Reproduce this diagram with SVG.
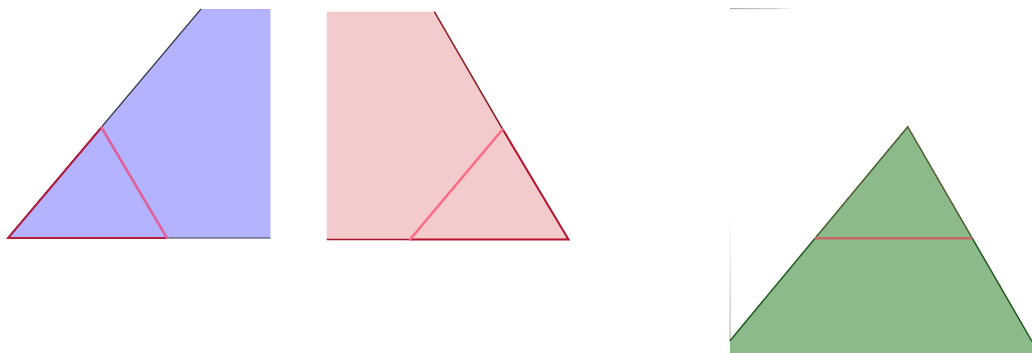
<svg xmlns="http://www.w3.org/2000/svg" width="1032" height="353" viewBox="0 0 1032 353">
<defs>
<linearGradient id="gh" x1="0" x2="1" y1="0" y2="0"><stop offset="0" stop-color="#b0b0b0"/><stop offset="0.7" stop-color="#d0d0d0"/><stop offset="1" stop-color="#e0e0e0" stop-opacity="0"/></linearGradient>
<linearGradient id="gv" x1="0" x2="0" y1="0" y2="1"><stop offset="0" stop-color="#c8c8c8" stop-opacity="0"/><stop offset="1" stop-color="#b0b0b0"/></linearGradient>
</defs>
<style>
.pk{stroke-width:2.5;fill:none;stroke-linecap:round}
</style>
<rect width="1032" height="353" fill="#fff"/>
<g id="blue">
<polygon points="8,238 201,9 270.5,9 270.5,238" fill="#b3b3ff"/>
<line x1="8" y1="238" x2="201" y2="9" stroke="#3a3a4a" stroke-width="1.2"/>
<line x1="167" y1="238" x2="270.5" y2="238" stroke="#3a3a4a" stroke-width="1.2"/>
<polyline points="101.5,127.5 8,238 167,238" stroke="#b01e40" stroke-width="2" fill="none"/>
<line class="pk" x1="101.5" y1="127.5" x2="167" y2="238" stroke="#e0609a"/>
</g>
<g id="pink">
<polygon points="326.7,11.7 434.3,11.7 568.5,239.5 326.7,239.5" fill="#f4cbcc"/>
<line x1="434.3" y1="11.7" x2="502.7" y2="129.3" stroke="#8a1a20" stroke-width="1.5"/>
<line x1="326.7" y1="239.5" x2="410" y2="239.5" stroke="#a01a2a" stroke-width="1.5"/>
<polyline points="502.7,129.3 568.5,239.5 410,239.5" stroke="#b5142a" stroke-width="2" fill="none"/>
<line class="pk" x1="502.7" y1="129.3" x2="410" y2="239.5" stroke="#ff6a84"/>
</g>
<g id="green">
<rect x="730" y="8" width="65" height="1.2" fill="url(#gh)"/>
<rect x="729.5" y="205" width="1.2" height="136" fill="url(#gv)"/>
<polygon points="730,340.7 907.7,126.7 1032,341.4 1032,353 730,353" fill="#8dba8a"/>
<polyline points="730,340.7 907.7,126.7 1032,341.4" stroke="#1f5a1f" stroke-width="1.5" fill="none"/>
<polyline points="815,238.3 907.7,126.7 972.3,238.3" stroke="#d06060" stroke-width="0.8" fill="none" opacity="0.6"/>
<line x1="815" y1="238.3" x2="972.3" y2="238.3" stroke="#c8696a" stroke-width="2.5"/>
</g>
</svg>
